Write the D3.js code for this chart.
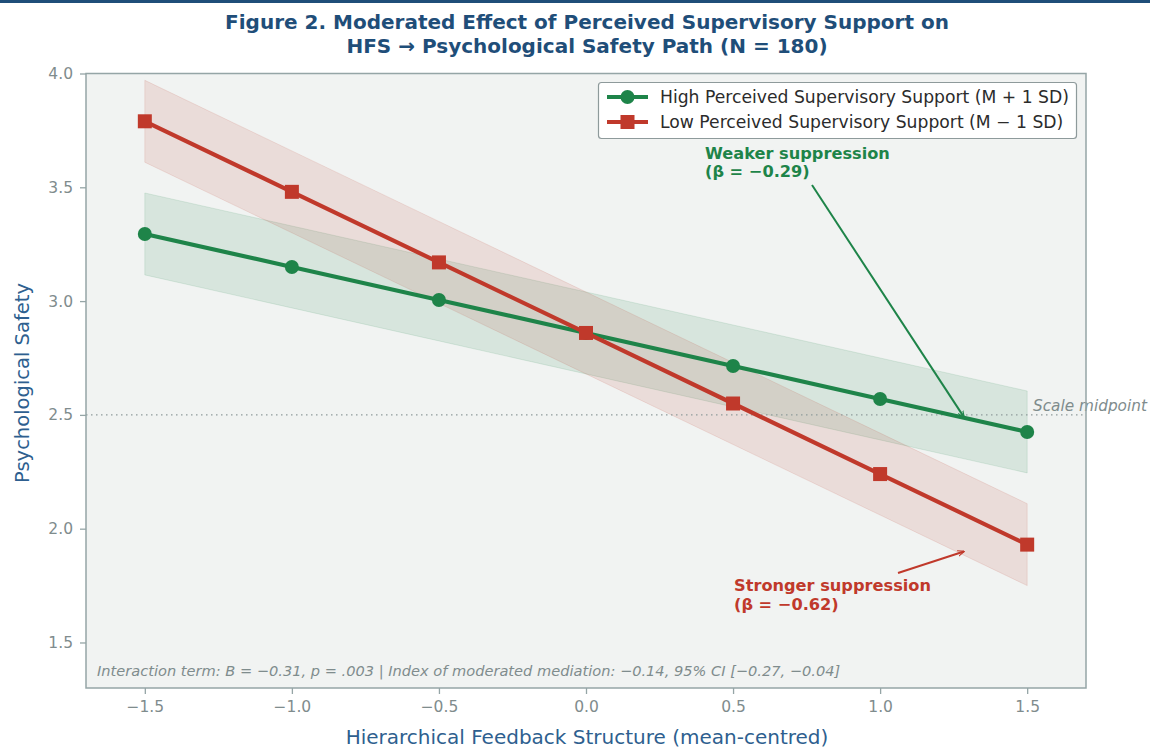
<!DOCTYPE html>
<html>
<head>
<meta charset="utf-8">
<script src="https://cdn.jsdelivr.net/npm/d3@7"></script>
<style>
  html, body { margin: 0; padding: 0; background: #ffffff; }
  svg { display: block; font-family: "DejaVu Sans", sans-serif; }
</style>
</head>
<body>
<svg id="chart" width="1150" height="749"></svg>
<script>
// Hierarchical feedback structure levels (mean-centred)
const hfsLevels = [-1.5, -1.0, -0.5, 0.0, 0.5, 1.0, 1.5];
// Predicted psychological safety at high supervisory support (M + 1 SD)
const highSupport = [3.295, 3.15, 3.005, 2.86, 2.715, 2.57, 2.425];
// Predicted psychological safety at low supervisory support (M − 1 SD)
const lowSupport = [3.79, 3.48, 3.17, 2.86, 2.55, 2.24, 1.93];
// Half-width of the 95% confidence band around each simple slope
const highCI = [0.18, 0.18, 0.18, 0.18, 0.18, 0.18, 0.18];
const lowCI = [0.18, 0.18, 0.18, 0.18, 0.18, 0.18, 0.18];
const xTicks = [-1.5, -1.0, -0.5, 0.0, 0.5, 1.0, 1.5];
const yTicks = [1.5, 2.0, 2.5, 3.0, 3.5, 4.0];
const seriesNames = [
  "High Perceived Supervisory Support (M + 1 SD)",
  "Low Perceived Supervisory Support (M \u2212 1 SD)"
];
const midpoint = 2.5;

const GREEN = "#1e8449";
const RED = "#c0392b";
const NAVY = "#1f4e79";
const TICK = "#7f8c8d";
const SPINE = "#95a5a6";

const svg = d3.select("#chart");
const W = 1150, H = 749;
const plot = { left: 86, right: 1086, top: 73.5, bottom: 688 };

const x = d3.scaleLinear().domain([-1.7, 1.7]).range([plot.left, plot.right]);
const y = d3.scaleLinear().domain([1.3, 4.0]).range([plot.bottom, plot.top]);

const fmt = v => d3.format(".1f")(v).replace("-", "\u2212");

// page accent bar
svg.append("rect").attr("x", 0).attr("y", 0).attr("width", W).attr("height", 3).attr("fill", NAVY);

// title
const title = svg.append("text").attr("text-anchor", "middle").attr("fill", NAVY)
  .attr("font-weight", "bold").attr("font-size", 20);
title.append("tspan").attr("x", 587).attr("y", 29).text("Figure 2. Moderated Effect of Perceived Supervisory Support on");
title.append("tspan").attr("x", 587).attr("y", 53).text("HFS \u2192 Psychological Safety Path (N = 180)");

// plot background
svg.append("rect").attr("x", plot.left).attr("y", plot.top)
  .attr("width", plot.right - plot.left).attr("height", plot.bottom - plot.top)
  .attr("fill", "#f1f3f2");

const g = svg.append("g");

// confidence bands
function band(values, ci, color) {
  const pts = hfsLevels.map((h, i) => ({ h, lo: values[i] - ci[i], hi: values[i] + ci[i] }));
  const area = d3.area().x(d => x(d.h)).y0(d => y(d.lo)).y1(d => y(d.hi));
  g.append("path").datum(pts).attr("d", area)
    .attr("fill", color).attr("fill-opacity", 0.12)
    .attr("stroke", color).attr("stroke-opacity", 0.12).attr("stroke-width", 1);
}
band(highSupport, highCI, GREEN);
band(lowSupport, lowCI, RED);

// scale midpoint reference line
g.append("line").attr("x1", plot.left).attr("x2", plot.right)
  .attr("y1", y(midpoint)).attr("y2", y(midpoint))
  .attr("stroke", "#8e9a9b").attr("stroke-width", 1.3).attr("stroke-dasharray", "1.5,3.5");
svg.append("text").attr("x", 1033).attr("y", y(midpoint) - 4)
  .attr("fill", TICK).attr("font-size", 15.3).attr("font-style", "italic").text("Scale midpoint");

// simple slope lines
const line = d3.line().x((d, i) => x(hfsLevels[i])).y(d => y(d));
g.append("path").datum(highSupport).attr("d", line).attr("fill", "none")
  .attr("stroke", GREEN).attr("stroke-width", 4.2).attr("stroke-linejoin", "round");
g.append("path").datum(lowSupport).attr("d", line).attr("fill", "none")
  .attr("stroke", RED).attr("stroke-width", 4.2).attr("stroke-linejoin", "round");

g.selectAll(".hi-pt").data(highSupport).enter().append("circle")
  .attr("cx", (d, i) => x(hfsLevels[i])).attr("cy", d => y(d)).attr("r", 7).attr("fill", GREEN);
g.selectAll(".lo-pt").data(lowSupport).enter().append("rect")
  .attr("x", (d, i) => x(hfsLevels[i]) - 7).attr("y", d => y(d) - 7)
  .attr("width", 14).attr("height", 14).attr("fill", RED);

// frame
svg.append("rect").attr("x", plot.left).attr("y", plot.top)
  .attr("width", plot.right - plot.left).attr("height", plot.bottom - plot.top)
  .attr("fill", "none").attr("stroke", SPINE).attr("stroke-width", 1.5);

// axes
const xAxis = svg.append("g").attr("transform", `translate(0,${plot.bottom})`)
  .call(d3.axisBottom(x).tickValues(xTicks).tickFormat(fmt).tickSize(6).tickPadding(7));
const yAxis = svg.append("g").attr("transform", `translate(${plot.left},0)`)
  .call(d3.axisLeft(y).tickValues(yTicks).tickFormat(fmt).tickSize(6).tickPadding(7));
[xAxis, yAxis].forEach(a => {
  a.select(".domain").remove();
  a.selectAll("line").attr("stroke", SPINE).attr("stroke-width", 1.3);
  a.selectAll("text").attr("fill", TICK).attr("font-size", 15.5)
    .attr("font-family", "DejaVu Sans, sans-serif");
});

// axis titles
svg.append("text").attr("x", 587).attr("y", 744).attr("text-anchor", "middle")
  .attr("fill", "#2e5f8f").attr("font-size", 20)
  .text("Hierarchical Feedback Structure (mean-centred)");
svg.append("text").attr("transform", "translate(29,383) rotate(-90)").attr("text-anchor", "middle")
  .attr("fill", "#2e5f8f").attr("font-size", 19.5).text("Psychological Safety");

// annotations
const defs = svg.append("defs");
[["arrowG", GREEN], ["arrowR", RED]].forEach(([id, c]) => {
  defs.append("marker").attr("id", id).attr("viewBox", "0 0 10 10")
    .attr("refX", 9).attr("refY", 5).attr("markerWidth", 7).attr("markerHeight", 7)
    .attr("orient", "auto-start-reverse").attr("markerUnits", "userSpaceOnUse")
    .append("path").attr("d", "M0,1 L10,5 L0,9").attr("fill", "none")
    .attr("stroke", c).attr("stroke-width", 1.6);
});

const weak = svg.append("text").attr("fill", GREEN).attr("font-weight", "bold").attr("font-size", 16.2);
weak.append("tspan").attr("x", 705).attr("y", 159).text("Weaker suppression");
weak.append("tspan").attr("x", 705).attr("y", 177).text("(\u03b2 = \u22120.29)");
svg.append("line").attr("x1", 812).attr("y1", 185).attr("x2", x(1.285)).attr("y2", y(2.49))
  .attr("stroke", GREEN).attr("stroke-width", 2).attr("marker-end", "url(#arrowG)");

const strong = svg.append("text").attr("fill", RED).attr("font-weight", "bold").attr("font-size", 16.2);
strong.append("tspan").attr("x", 734).attr("y", 591).text("Stronger suppression");
strong.append("tspan").attr("x", 734).attr("y", 610).text("(\u03b2 = \u22120.62)");
svg.append("line").attr("x1", 898).attr("y1", 573).attr("x2", x(1.285)).attr("y2", y(1.9))
  .attr("stroke", RED).attr("stroke-width", 2).attr("marker-end", "url(#arrowR)");

// legend
const lg = svg.append("g");
lg.append("rect").attr("x", 598.5).attr("y", 82.5).attr("width", 478).attr("height", 56).attr("rx", 3)
  .attr("fill", "#ffffff").attr("stroke", "#8e9a9b").attr("stroke-width", 1.2);
seriesNames.forEach((name, i) => {
  const cy = 97 + i * 25, c = i === 0 ? GREEN : RED;
  lg.append("line").attr("x1", 607).attr("x2", 648).attr("y1", cy).attr("y2", cy)
    .attr("stroke", c).attr("stroke-width", 4.2);
  if (i === 0) lg.append("circle").attr("cx", 627.5).attr("cy", cy).attr("r", 7).attr("fill", c);
  else lg.append("rect").attr("x", 620.5).attr("y", cy - 7).attr("width", 14).attr("height", 14).attr("fill", c);
  lg.append("text").attr("x", 660).attr("y", cy + 6).attr("fill", "#2b2b2b")
    .attr("font-size", 17.2).text(name);
});

// footnote inside the plot
svg.append("text").attr("x", 97).attr("y", 676).attr("fill", TICK).attr("font-size", 14.6)
  .attr("font-style", "italic")
  .text("Interaction term: B = \u22120.31, p = .003 | Index of moderated mediation: \u22120.14, 95% CI [\u22120.27, \u22120.04]");
</script>
</body>
</html>
